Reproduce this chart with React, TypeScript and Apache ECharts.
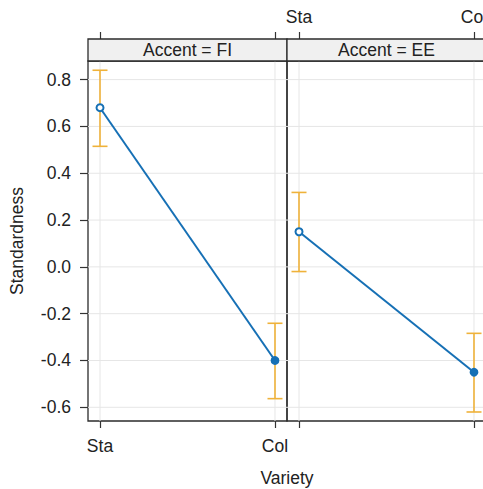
import React, { useEffect, useRef } from "react";
import * as echarts from "echarts";

const categories = ["Sta", "Col"];
const panels = ["FI", "EE"];
const fiFit = [0.68, -0.4];
const fiLower = [0.515, -0.563];
const fiUpper = [0.84, -0.241];
const eeFit = [0.15, -0.45];
const eeLower = [-0.02, -0.62];
const eeUpper = [0.318, -0.284];
const yTicks = [-0.6, -0.4, -0.2, 0, 0.2, 0.4, 0.6, 0.8];
const xTicks = [0, 1];

const Y_MIN = -0.6585;
const Y_MAX = 0.8795;
const X_MIN = -0.0686;
const X_MAX = 1.0686;

const FONT = "Liberation Sans, Arial, sans-serif";
const TEXT = "#222";
const BLUE = "#1670B5";
const ORANGE = "#EFB23A";
const GRIDC = "#E6E6E6";

const PANEL_LEFT = [88, 287];
const PANEL_W = 199;
const PANEL_TOP = 61;
const PANEL_H = 360;
const STRIP_H = 22;

export default function App() {
  const ref = useRef<HTMLDivElement>(null);
  useEffect(() => {
    document.body.style.margin = "0";
    if (!ref.current) return;
    const chart = echarts.init(ref.current, null, { renderer: "svg" });

    const fits = [fiFit, eeFit];
    const lowers = [fiLower, eeLower];
    const uppers = [fiUpper, eeUpper];

    const grids = PANEL_LEFT.map((l) => ({
      left: l,
      top: PANEL_TOP,
      width: PANEL_W,
      height: PANEL_H,
      show: true,
      containLabel: false,
      outerBoundsMode: "none",
      borderColor: "#2b2b2b",
      borderWidth: 1.3,
      backgroundColor: "transparent",
    }));

    const xAxes: any[] = [];
    panels.forEach((_, gi) => {
      const base = {
        type: "value",
        gridIndex: gi,
        min: X_MIN,
        max: X_MAX,
        axisLine: { show: false, onZero: false },
        splitLine: { show: false },
        axisTick: {
          show: true,
          customValues: xTicks,
          length: 7,
          lineStyle: { color: "#333", width: 1.2 },
        },
      };
      xAxes.push({
        ...base,
        position: "bottom",
        axisLabel: {
          show: gi === 0,
          customValues: xTicks,
          formatter: (v: number) => categories[Math.round(v)],
          fontSize: 17.5,
          fontFamily: FONT,
          color: TEXT,
          margin: 16,
        },
      });
      xAxes.push({
        ...base,
        position: "top",
        offset: STRIP_H,
        axisLabel: {
          show: gi === 1,
          customValues: xTicks,
          formatter: (v: number) => categories[Math.round(v)],
          fontSize: 17.5,
          fontFamily: FONT,
          color: TEXT,
          margin: 13,
        },
      });
    });

    const yAxes = panels.map((_, gi) => ({
      type: "value",
      gridIndex: gi,
      min: Y_MIN,
      max: Y_MAX,
      show: gi === 0,
      axisLine: { show: false, onZero: false },
      splitLine: { show: false },
      axisTick: {
        show: true,
        customValues: yTicks,
        length: 8,
        lineStyle: { color: "#333", width: 1.2 },
      },
      axisLabel: {
        customValues: yTicks,
        formatter: (v: number) => v.toFixed(1),
        fontSize: 17.5,
        fontFamily: FONT,
        color: TEXT,
        margin: 17,
      },
    }));

    const series: any[] = [];
    panels.forEach((_, gi) => {
      const xi = gi * 2;
      series.push({
        type: "custom",
        xAxisIndex: xi,
        yAxisIndex: gi,
        z: 0,
        silent: true,
        encode: { x: 0, y: 1 },
        data: yTicks.map((t) => [0, t]),
        renderItem: (params: any, api: any) => {
          const cs = params.coordSys;
          const y = api.coord([0, api.value(1)])[1];
          return {
            type: "line",
            shape: { x1: cs.x, y1: y, x2: cs.x + cs.width, y2: y },
            style: { stroke: GRIDC, lineWidth: 1 },
          };
        },
      });
      series.push({
        type: "custom",
        xAxisIndex: xi,
        yAxisIndex: gi,
        z: 0,
        silent: true,
        encode: { x: 0, y: 1 },
        data: xTicks.map((t) => [t, 0]),
        renderItem: (params: any, api: any) => {
          const cs = params.coordSys;
          const x = api.coord([api.value(0), 0])[0];
          return {
            type: "line",
            shape: { x1: x, y1: cs.y, x2: x, y2: cs.y + cs.height },
            style: { stroke: GRIDC, lineWidth: 1 },
          };
        },
      });
      series.push({
        type: "custom",
        xAxisIndex: xi,
        yAxisIndex: gi,
        z: 2,
        encode: { x: 0, y: [1, 2] },
        data: categories.map((_, i) => [i, lowers[gi][i], uppers[gi][i]]),
        renderItem: (params: any, api: any) => {
          const lo = api.coord([api.value(0), api.value(1)]);
          const hi = api.coord([api.value(0), api.value(2)]);
          const hw = 7.5;
          const st = { stroke: ORANGE, lineWidth: 1.6 };
          return {
            type: "group",
            children: [
              { type: "line", shape: { x1: lo[0], y1: lo[1], x2: hi[0], y2: hi[1] }, style: st },
              { type: "line", shape: { x1: lo[0] - hw, y1: lo[1], x2: lo[0] + hw, y2: lo[1] }, style: st },
              { type: "line", shape: { x1: hi[0] - hw, y1: hi[1], x2: hi[0] + hw, y2: hi[1] }, style: st },
            ],
          };
        },
      });
      series.push({
        type: "line",
        xAxisIndex: xi,
        yAxisIndex: gi,
        z: 3,
        lineStyle: { color: BLUE, width: 2 },
        itemStyle: { color: BLUE, borderColor: BLUE, borderWidth: 1.8 },
        symbolSize: 7,
        data: categories.map((_, i) => ({
          value: [i, fits[gi][i]],
          symbol: i === 0 ? "emptyCircle" : "circle",
        })),
      });
    });

    const graphic: any[] = [];
    panels.forEach((p, gi) => {
      graphic.push({
        type: "rect",
        z: 10,
        shape: { x: PANEL_LEFT[gi], y: PANEL_TOP - STRIP_H, width: PANEL_W, height: STRIP_H },
        style: { fill: "#F0F0F0", stroke: "#2b2b2b", lineWidth: 1.3 },
      });
      graphic.push({
        type: "text",
        z: 11,
        x: PANEL_LEFT[gi] + PANEL_W / 2,
        y: PANEL_TOP - STRIP_H / 2,
        style: {
          text: `Accent = ${p}`,
          align: "center",
          verticalAlign: "middle",
          fontSize: 17.5,
          fontFamily: FONT,
          fill: TEXT,
        },
      });
    });
    graphic.push({
      type: "text",
      x: 17,
      y: 241,
      rotation: Math.PI / 2,
      style: {
        text: "Standardness",
        align: "center",
        verticalAlign: "middle",
        fontSize: 17.5,
        fontFamily: FONT,
        fill: TEXT,
      },
    });
    graphic.push({
      type: "text",
      x: 287,
      y: 478,
      style: {
        text: "Variety",
        align: "center",
        verticalAlign: "middle",
        fontSize: 17.5,
        fontFamily: FONT,
        fill: TEXT,
      },
    });

    chart.setOption({
      animation: false,
      backgroundColor: "#fff",
      grid: grids,
      xAxis: xAxes,
      yAxis: yAxes,
      series,
      graphic,
    });
    return () => chart.dispose();
  }, []);
  return <div ref={ref} style={{ width: 483, height: 489, overflow: "hidden" }} />;
}
